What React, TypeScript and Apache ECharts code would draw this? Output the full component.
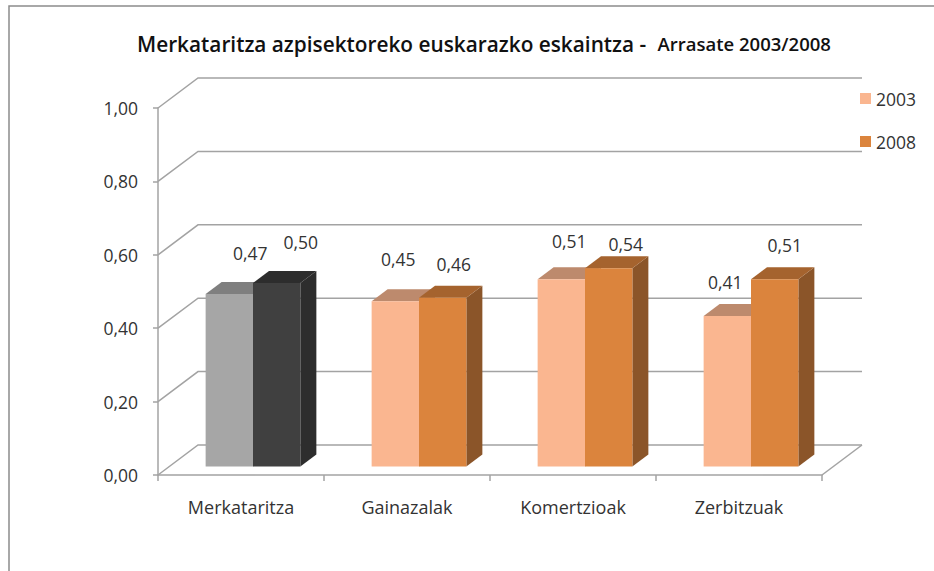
import React, { useEffect, useRef } from "react";
import * as echarts from "echarts";

const categories = ["Merkataritza", "Gainazalak", "Komertzioak", "Zerbitzuak"];
const values2003 = [0.47, 0.45, 0.51, 0.41];
const values2008 = [0.5, 0.46, 0.54, 0.51];
const yTicks = [0, 0.2, 0.4, 0.6, 0.8, 1];

// palette: [front, top, side] by category
const palette2003 = [
  ["#a6a6a6", "#7f7f7f", "#7f7f7f"],
  ["#fab690", "#bd8a6d", "#bd8a6d"],
  ["#fab690", "#bd8a6d", "#bd8a6d"],
  ["#fab690", "#bd8a6d", "#bd8a6d"],
];
const palette2008 = [
  ["#404040", "#2d2d2d", "#2d2d2d"],
  ["#db843d", "#a5632e", "#8b5529"],
  ["#db843d", "#a5632e", "#8b5529"],
  ["#db843d", "#a5632e", "#8b5529"],
];
// label offsets from the centre of a bar's top edge
const labelOffsets2003 = [[21, -41], [3, -42], [8, -38.5], [-2, -34]];
const labelOffsets2008 = [[24, -41], [11, -34], [17, -24], [10, -34]];

const WALL_DX = 40;
const WALL_DY = -30;
const BAR_DX = 12;
const BAR_DY = -8.5;
const BAR_RATIO = 0.2853;
const DEPTH_X = 16;
const DEPTH_Y = -12;
const LINE = "#a3a3a3";
const TEXT = "#333333";
const FONT = "Open Sans";

const fmt = (v: number) => v.toFixed(2).replace(".", ",");

function wallItem(params: any, api: any) {
  const v = api.value(1);
  const cs = params.coordSys;
  const y = api.coord([0, v])[1];
  const children: any[] = [
    {
      type: "polyline",
      shape: {
        points: [
          [cs.x, y],
          [cs.x + WALL_DX, y + WALL_DY],
          [cs.x + cs.width + WALL_DX, y + WALL_DY],
        ],
      },
      style: { stroke: LINE, lineWidth: 1.5, fill: "none" },
    },
  ];
  if (v === 0) {
    children.push({
      type: "line",
      shape: { x1: cs.x + cs.width, y1: y, x2: cs.x + cs.width + WALL_DX, y2: y + WALL_DY },
      style: { stroke: LINE, lineWidth: 1.5 },
    });
  }
  return { type: "group", children };
}

function barItem(side: number, palette: string[][], offsets: number[][]) {
  return (params: any, api: any) => {
    const i = api.value(0);
    const v = api.value(1);
    const [cx, top] = api.coord([i, v]);
    const [, base] = api.coord([i, 0]);
    const w = api.size([1, 0])[0] * BAR_RATIO;
    const xl = cx + BAR_DX + (side === 0 ? -w : 0);
    const xr = xl + w;
    const yt = top + BAR_DY;
    const yb = base + BAR_DY;
    const [front, topC, sideC] = palette[i];
    const [ox, oy] = offsets[i];
    return {
      type: "group",
      children: [
        {
          type: "polygon",
          shape: { points: [[xr, yt], [xr + DEPTH_X, yt + DEPTH_Y], [xr + DEPTH_X, yb + DEPTH_Y], [xr, yb]] },
          style: { fill: sideC },
        },
        {
          type: "polygon",
          shape: { points: [[xl, yt], [xr, yt], [xr + DEPTH_X, yt + DEPTH_Y], [xl + DEPTH_X, yt + DEPTH_Y]] },
          style: { fill: topC },
        },
        { type: "rect", shape: { x: xl, y: yt, width: w, height: yb - yt }, style: { fill: front } },
        {
          type: "text",
          style: {
            text: fmt(v),
            x: (xl + xr) / 2 + ox,
            y: yt + oy,
            fill: TEXT,
            font: `17.5px "${FONT}"`,
            align: "center",
            verticalAlign: "middle",
          },
        },
      ],
    };
  };
}

export default function App() {
  const ref = useRef<HTMLDivElement>(null);
  useEffect(() => {
    const chart = echarts.init(ref.current!, null, { renderer: "svg" });
    chart.setOption({
      animation: false,
      backgroundColor: "#ffffff",
      title: {
        text: "{a|Merkataritza azpisektoreko euskarazko eskaintza - }{b|Arrasate 2003/2008}",
        left: 132,
        top: 28,
        textStyle: {
          rich: {
            a: { fontFamily: FONT, fontWeight: 600, fontSize: 20.8, color: "#111111" },
            b: { fontFamily: FONT, fontWeight: 600, fontSize: 18.5, color: "#111111", padding: [0, 0, 0, 6] },
          },
        },
      },
      legend: {
        data: ["2003", "2008"],
        orient: "vertical",
        left: 860,
        top: 89.5,
        itemWidth: 11,
        itemHeight: 11,
        itemGap: 25,
        icon: "rect",
        padding: 0,
        textStyle: { fontFamily: FONT, fontSize: 17.5, color: TEXT, padding: [0, 0, 0, 0] },
      },
      grid: { left: 158, right: 112, top: 108, bottom: 96 },
      xAxis: {
        type: "category",
        data: categories,
        axisLine: { lineStyle: { color: LINE, width: 1.5 } },
        axisTick: { show: true, length: 6, lineStyle: { color: LINE, width: 1.5 } },
        axisLabel: { fontFamily: FONT, fontSize: 18, color: TEXT, margin: 23 },
      },
      yAxis: {
        type: "value",
        min: 0,
        max: 1,
        interval: 0.2,
        axisLine: { show: true, lineStyle: { color: LINE, width: 1.5 } },
        axisTick: { show: true, length: 5, lineStyle: { color: LINE, width: 1.5 } },
        splitLine: { show: false },
        axisLabel: { fontFamily: FONT, fontSize: 17.5, color: TEXT, margin: 20, formatter: (v: number) => fmt(v) },
      },
      series: [
        {
          type: "custom",
          name: "wall",
          silent: true,
          z: 1,
          clip: false,
          renderItem: wallItem,
          encode: { x: 0, y: 1 },
          data: yTicks.map((v) => [0, v]),
        },
        {
          type: "custom",
          name: "2003",
          z: 2,
          clip: false,
          itemStyle: { color: "#fab690" },
          renderItem: barItem(0, palette2003, labelOffsets2003),
          encode: { x: 0, y: 1 },
          data: values2003.map((v, i) => [i, v]),
        },
        {
          type: "custom",
          name: "2008",
          z: 3,
          clip: false,
          itemStyle: { color: "#db843d" },
          renderItem: barItem(1, palette2008, labelOffsets2008),
          encode: { x: 0, y: 1 },
          data: values2008.map((v, i) => [i, v]),
        },
      ],
      graphic: [
        {
          type: "polyline",
          silent: true,
          shape: { points: [[9, 571], [9, 6], [934, 6]] },
          style: { stroke: "#8c8c8c", lineWidth: 1.5, fill: "none" },
        },
      ],
    });
    return () => chart.dispose();
  }, []);
  return <div ref={ref} style={{ position: "absolute", left: 0, top: 0, width: 934, height: 571 }} />;
}
